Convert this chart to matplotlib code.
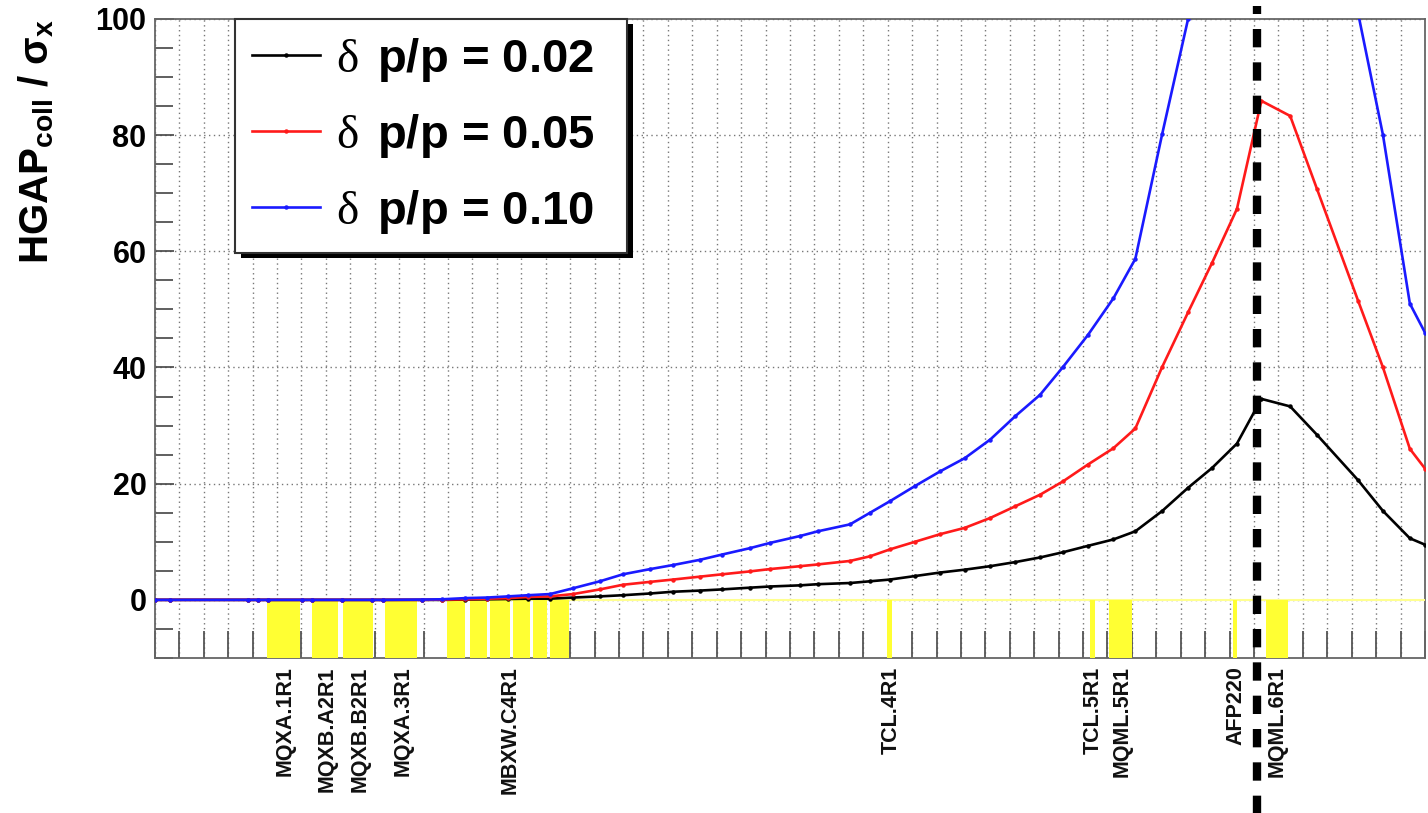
import matplotlib
matplotlib.use("Agg")
import matplotlib.pyplot as plt
from matplotlib.ticker import FixedLocator, MultipleLocator, NullFormatter
import matplotlib.patheffects as pe

plt.rcParams['font.family'] = ['Liberation Sans', 'DejaVu Sans']
plt.rcParams['mathtext.fontset'] = 'custom'
plt.rcParams['mathtext.rm'] = 'Liberation Serif'
plt.rcParams['mathtext.it'] = 'Liberation Serif:italic'
plt.rcParams['mathtext.bf'] = 'Liberation Sans:bold'
plt.rcParams['mathtext.sf'] = 'Liberation Sans'

# ---------------- data ----------------
s_m = [0.0, 3.1, 19.0, 21.1, 23.1, 30.1, 32.1, 38.3, 44.4, 46.7,
       54.7, 58.8, 63.5, 68.0, 72.3, 76.4, 80.9, 85.6, 91.1, 95.8,
       101.4, 106.1, 111.6, 116.1, 121.8, 125.9, 132.1, 135.7, 142.3, 146.4,
       150.5, 155.6, 160.7, 165.8, 171.0, 176.1, 181.2, 185.9, 191.0, 196.2,
       200.7, 206.2, 211.5, 216.4, 221.5, 226.5, 232.4, 237.9, 246.3, 251.4,
       256.9, 260.0]

gap_002 = [0, 0, 0, 0, 0, 0, 0, 0, 0, 0,
           0, 0, 0.05, 0.1, 0.15, 0.2, 0.2, 0.4, 0.6, 0.8,
           1.1, 1.4, 1.6, 1.8, 2.1, 2.3, 2.5, 2.7, 2.9, 3.2,
           3.5, 4.1, 4.7, 5.2, 5.8, 6.5, 7.3, 8.2, 9.3, 10.4,
           11.8, 15.3, 19.3, 22.7, 26.9, 34.6, 33.3, 28.4, 20.6, 15.3,
           10.6, 9.5]

gap_005 = [0, 0, 0, 0, 0, 0, 0, 0, 0, 0,
           0, 0.05, 0.1, 0.2, 0.3, 0.5, 0.6, 1.0, 1.8, 2.6,
           3.1, 3.5, 4.0, 4.4, 4.9, 5.3, 5.8, 6.1, 6.7, 7.5,
           8.7, 10.0, 11.3, 12.4, 14.1, 16.1, 18.1, 20.4, 23.3, 26.1,
           29.5, 40.1, 49.5, 58.0, 67.3, 85.9, 83.3, 70.7, 51.5, 40.0,
           26.0, 22.6]

gap_010 = [0, 0, 0, 0, 0, 0, 0, 0, 0, 0,
           0.05, 0.1, 0.3, 0.4, 0.6, 0.8, 1.0, 2.0, 3.2, 4.4,
           5.3, 6.0, 6.9, 7.8, 8.9, 9.8, 11.0, 11.8, 13.0, 15.0,
           17.0, 19.6, 22.1, 24.4, 27.6, 31.6, 35.3, 40.1, 45.6, 51.9,
           58.7, 80.2, 100.0, 118.0, 135.0, 173.0, 167.0, 142.0, 101.0, 80.0,
           51.0, 46.0]

series_labels = [r"$\mathrm{\delta}\,$ p/p = 0.02",
                 r"$\mathrm{\delta}\,$ p/p = 0.05",
                 r"$\mathrm{\delta}\,$ p/p = 0.10"]

elem_start = [22.9, 32.2, 38.4, 47.1, 59.7, 64.5, 68.6, 73.3, 77.4, 80.9,
              149.9, 191.4, 195.3, 220.7, 227.5]
elem_end = [29.7, 37.5, 44.6, 53.6, 63.5, 67.9, 72.7, 76.8, 80.2, 84.8,
            150.8, 192.4, 200.0, 221.6, 232.0]

label_names = ['MQXA.1R1', 'MQXB.A2R1', 'MQXB.B2R1', 'MQXA.3R1', 'MBXW.C4R1',
               'TCL.4R1', 'TCL.5R1', 'MQML.5R1', 'AFP220', 'MQML.6R1']
label_s = [26.6, 35.2, 42.0, 50.8, 72.7, 150.7, 192.0, 198.0, 221.3, 229.8]

dashed_s = 225.6

# ---------------- figure ----------------
fig = plt.figure(figsize=(14.28, 8.13), dpi=100)
ax = fig.add_axes([0.1085, 0.1907, 0.8894, 0.786])
ax.set_xlim(0, 260)
ax.set_ylim(-10, 100)

# zero reference line (pale yellow)
ax.axhline(0, color='#ffff90', lw=1.5, zorder=2.8)

# element boxes
widths = [e - s for s, e in zip(elem_start, elem_end)]
ax.bar(elem_start, [10] * len(elem_start), width=widths, bottom=-10,
       align='edge', color='#ffff33', edgecolor='none', zorder=3)

colors = ['black', '#ff1a1a', '#1a1aff']
for ys, c, lab in zip([gap_002, gap_005, gap_010], colors, series_labels):
    ax.plot(s_m, ys, color=c, lw=1.9, marker='o', ms=2.2, mec=c, mfc=c,
            label=lab, zorder=4)

# dashed vertical marker extending beyond the axes
ax.plot([dashed_s, dashed_s], [-37, 102.3], color='black', lw=6,
        dashes=(2.2, 1.8), dash_capstyle='butt', clip_on=False, zorder=6)

# ---------------- axes styling ----------------
for sp in ax.spines.values():
    sp.set_color('#666666')
    sp.set_linewidth(1.3)

ax.yaxis.set_major_locator(FixedLocator([0, 20, 40, 60, 80, 100]))
ax.yaxis.set_minor_locator(MultipleLocator(5))
ax.tick_params(axis='y', which='major', direction='in', length=14, width=1.2,
               color='#444444', labelsize=22, pad=6)
ax.tick_params(axis='y', which='minor', direction='in', length=13, width=1.2,
               color='#444444')
for t in ax.get_yticklabels():
    t.set_fontweight('bold')

ax.xaxis.set_major_locator(FixedLocator(label_s))
ax.set_xticklabels(label_names, rotation=90, fontsize=15.5, fontweight='bold',
                   va='top', ha='center')
ax.xaxis.set_minor_locator(MultipleLocator(5))
ax.xaxis.set_minor_formatter(NullFormatter())
ax.tick_params(axis='x', which='major', length=0, pad=6, labelcolor='#111111')
ax.tick_params(axis='x', which='minor', direction='in', length=19.5, width=1.3,
               color='#555555')

ax.xaxis.grid(True, which='minor', linestyle=(0, (1, 2.5)), color='#777777', lw=1.0)
ax.xaxis.grid(False, which='major')
ax.yaxis.grid(True, which='major', linestyle=(0, (1, 2.5)), color='#777777', lw=1.0)
ax.set_axisbelow(True)

ax.set_ylabel("HGAP$_{\\mathbf{coll}}$ / σ$_{\\mathbf{x}}$", fontsize=29,
              fontweight='bold', loc='top')
ax.yaxis.set_label_coords(-0.0776, 1.0)

leg = ax.legend(loc='upper left', bbox_to_anchor=(0.063, 0.6, 0.3087, 0.4),
                mode='expand', borderaxespad=0,
                prop={'family': 'Liberation Sans', 'weight': 'bold', 'size': 34},
                fancybox=False, framealpha=1, edgecolor='#333333',
                borderpad=0.36, labelspacing=0.59, handlelength=1.45,
                handletextpad=0.34, numpoints=1)
leg.get_frame().set_linewidth(1.5)
leg.get_frame().set_path_effects([
    pe.SimplePatchShadow(offset=(4, -4), shadow_rgbFace='black', alpha=1.0),
    pe.Normal()])
leg.set_zorder(7)

fig.savefig('out.png', dpi=100)
